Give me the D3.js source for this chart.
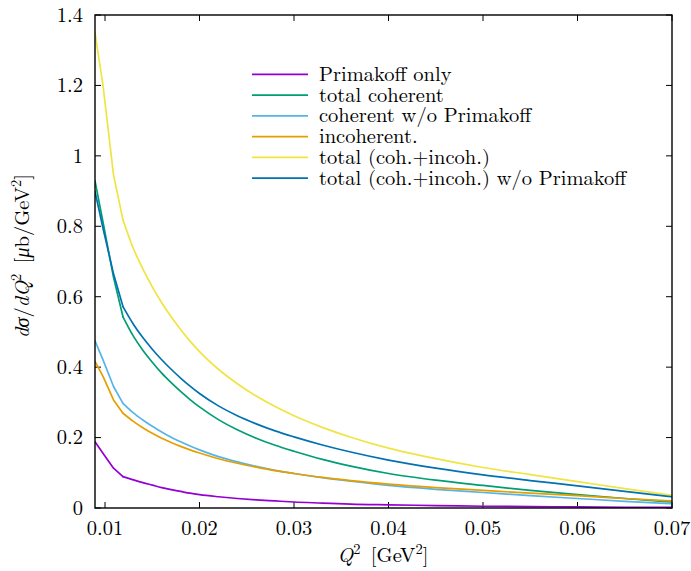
<!DOCTYPE html>
<html>
<head>
<meta charset="utf-8">
<script src="https://cdn.jsdelivr.net/npm/d3@7/dist/d3.min.js"></script>
<style>
  html, body { margin: 0; padding: 0; background: #fff; }
</style>
</head>
<body>
<svg id="chart" width="691" height="571"></svg>
<script>
// ---- data ----
const q2 = [0.00894, 0.0098, 0.0109, 0.0119, 0.013, 0.014, 0.015, 0.016, 0.017, 0.018, 0.019, 0.02,
            0.022, 0.024, 0.026, 0.028, 0.03, 0.033, 0.036, 0.04, 0.045, 0.05, 0.055, 0.06, 0.065, 0.07];

const primakoffOnly = [0.188, 0.155, 0.113, 0.089, 0.080, 0.072, 0.065, 0.058, 0.052, 0.047, 0.042, 0.038,
                       0.032, 0.027, 0.023, 0.020, 0.017, 0.014, 0.011, 0.009, 0.007, 0.005, 0.004, 0.003, 0.002, 0.0015];
const totalCoherent = [0.929, 0.810, 0.655, 0.543, 0.488, 0.448, 0.414, 0.383, 0.356, 0.331, 0.308, 0.287,
                       0.251, 0.222, 0.198, 0.178, 0.161, 0.138, 0.119, 0.098, 0.079, 0.064, 0.050, 0.038, 0.027, 0.017];
const coherentNoPrim = [0.475, 0.420, 0.345, 0.297, 0.270, 0.250, 0.232, 0.216, 0.201, 0.188, 0.176, 0.165,
                        0.146, 0.131, 0.118, 0.107, 0.098, 0.086, 0.076, 0.064, 0.053, 0.044, 0.035, 0.027, 0.019, 0.012];
const incoherent = [0.416, 0.373, 0.307, 0.269, 0.246, 0.228, 0.212, 0.198, 0.186, 0.175, 0.165, 0.156,
                    0.140, 0.127, 0.116, 0.106, 0.098, 0.087, 0.078, 0.068, 0.058, 0.050, 0.042, 0.035, 0.027, 0.020];
const totalAll = [1.350, 1.197, 0.946, 0.818, 0.737, 0.679, 0.628, 0.583, 0.543, 0.507, 0.474, 0.444,
                  0.394, 0.353, 0.318, 0.288, 0.262, 0.229, 0.201, 0.170, 0.140, 0.115, 0.095, 0.075, 0.055, 0.036];
const totalNoPrim = [0.899, 0.793, 0.665, 0.572, 0.522, 0.484, 0.451, 0.421, 0.394, 0.369, 0.346, 0.325,
                     0.290, 0.262, 0.239, 0.219, 0.202, 0.179, 0.159, 0.136, 0.113, 0.094, 0.078, 0.063, 0.047, 0.032];

const seriesNames = ["Primakoff only", "total coherent", "coherent w/o Primakoff", "incoherent.",
                     "total (coh.+incoh.)", "total (coh.+incoh.) w/o Primakoff"];
const seriesColors = ["#9400d3", "#009e73", "#56b4e9", "#e69f00", "#f0e442", "#0072b2"];
const seriesValues = [primakoffOnly, totalCoherent, coherentNoPrim, incoherent, totalAll, totalNoPrim];

const xTicks = [0.01, 0.02, 0.03, 0.04, 0.05, 0.06, 0.07];
const xTickLabels = ["0.01", "0.02", "0.03", "0.04", "0.05", "0.06", "0.07"];
const yTicks = [0, 0.2, 0.4, 0.6, 0.8, 1, 1.2, 1.4];
const yTickLabels = ["0", "0.2", "0.4", "0.6", "0.8", "1", "1.2", "1.4"];

// ---- layout ----
const FONT = '"Latin Modern Roman", "Liberation Serif", "Times New Roman", serif';
const fs = 20.5, fsSup = 14.5;
const svg = d3.select("#chart");
const L = 95, R = 672, T = 15, B = 508;
const x = d3.scaleLinear().domain([0.00894, 0.07]).range([L, R]);
const y = d3.scaleLinear().domain([0, 1.4]).range([B, T]);
const tickLen = 6;

function txt(sel) {
  return sel.style("font-family", FONT).attr("font-size", fs).attr("fill", "#000");
}

svg.append("defs").append("clipPath").attr("id", "clip")
  .append("rect").attr("x", L).attr("y", T).attr("width", R - L).attr("height", B - T);

// ticks (inward, mirrored on top and right)
const tickG = svg.append("g").attr("stroke", "#000").attr("stroke-width", 1);
xTicks.forEach(v => {
  tickG.append("line").attr("x1", x(v)).attr("x2", x(v)).attr("y1", B).attr("y2", B - tickLen);
  tickG.append("line").attr("x1", x(v)).attr("x2", x(v)).attr("y1", T).attr("y2", T + tickLen);
});
yTicks.forEach(v => {
  tickG.append("line").attr("x1", L).attr("x2", L + tickLen).attr("y1", y(v)).attr("y2", y(v));
  tickG.append("line").attr("x1", R).attr("x2", R - tickLen).attr("y1", y(v)).attr("y2", y(v));
});

// tick labels
svg.append("g").selectAll("text").data(xTicks).join("text")
  .call(txt)
  .attr("x", d => x(d)).attr("y", 535)
  .attr("text-anchor", "middle")
  .text((d, i) => xTickLabels[i]);
svg.append("g").selectAll("text").data(yTicks).join("text")
  .call(txt)
  .attr("x", 83).attr("y", d => y(d) + 6.8)
  .attr("text-anchor", "end")
  .text((d, i) => yTickLabels[i]);

// curves: straight segments over the first sparse points, smooth afterwards
const lineLin = d3.line().x(d => x(d[0])).y(d => y(d[1]));
const lineSmooth = d3.line().x(d => x(d[0])).y(d => y(d[1])).curve(d3.curveMonotoneX);
const curves = svg.append("g").attr("clip-path", "url(#clip)");
seriesValues.forEach((vals, k) => {
  const pts = vals.map((v, i) => [q2[i], v]);
  const g = curves.append("g").attr("fill", "none")
    .attr("stroke", seriesColors[k]).attr("stroke-width", 1.7)
    .attr("stroke-linejoin", "round").attr("stroke-linecap", "round");
  g.append("path").attr("d", lineLin(pts.slice(0, 4)));
  g.append("path").attr("d", lineSmooth(pts.slice(3)));
});

// frame
svg.append("rect").attr("x", L).attr("y", T).attr("width", R - L).attr("height", B - T)
  .attr("fill", "none").attr("stroke", "#000").attr("stroke-width", 1.4);

// legend
const lg = svg.append("g");
seriesNames.forEach((name, k) => {
  const yy = 74.3 + k * 20.75;
  lg.append("line").attr("x1", 252).attr("x2", 308).attr("y1", yy).attr("y2", yy)
    .attr("stroke", seriesColors[k]).attr("stroke-width", 1.7);
  lg.append("text").call(txt).attr("x", 319).attr("y", yy + 6.5).text(name);
});

// x axis label: Q^2 [GeV^2]
const xl = svg.append("text").call(txt).attr("x", 383).attr("y", 562)
  .attr("text-anchor", "middle");
xl.append("tspan").attr("font-style", "italic").text("Q");
xl.append("tspan").attr("font-size", fsSup).attr("dy", -8).text("2");
xl.append("tspan").attr("dy", 8).text("\u2002[GeV");
xl.append("tspan").attr("font-size", fsSup).attr("dy", -8).text("2");
xl.append("tspan").attr("dy", 8).text("]");

// y axis label: dσ/dQ^2 [μb/GeV^2]
const yl = svg.append("text").call(txt)
  .attr("transform", "translate(29,256) rotate(-90)")
  .attr("text-anchor", "middle");
yl.append("tspan").attr("font-style", "italic").text("d\u03c3");
yl.append("tspan").text("/");
yl.append("tspan").attr("font-style", "italic").text("dQ");
yl.append("tspan").attr("font-size", fsSup).attr("dy", -8).text("2");
yl.append("tspan").attr("dy", 8).text("\u2002[");
yl.append("tspan").attr("font-style", "italic").text("\u03bc");
yl.append("tspan").text("b/GeV");
yl.append("tspan").attr("font-size", fsSup).attr("dy", -8).text("2");
yl.append("tspan").attr("dy", 8).text("]");
</script>
</body>
</html>
